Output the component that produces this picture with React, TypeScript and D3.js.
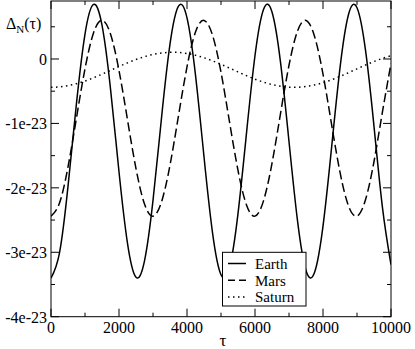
import React from "react";
import * as d3 from "d3";

const tau = [0, 250, 500, 750, 1000, 1250, 1500, 1750, 2000, 2250, 2500, 2750, 3000, 3250, 3500, 3750, 4000, 4250, 4500, 4750, 5000, 5250, 5500, 5750, 6000, 6250, 6500, 6750, 7000, 7250, 7500, 7750, 8000, 8250, 8500, 8750, 9000, 9250, 9500, 9750, 10000];

// values in units of 1e-23
const earth = [-3.400, -3.008, -1.977, -0.686, 0.387, 0.847, 0.524, -0.463, -1.750, -2.861, -3.387, -3.134, -2.195, -0.916, 0.230, 0.820, 0.638, -0.250, -1.517, -2.694, -3.348, -3.237, -2.401, -1.151, 0.054, 0.769, 0.729, -0.050, -1.281, -2.510, -3.283, -3.315, -2.594, -1.387, -0.138, 0.691, 0.795, 0.136, -1.045, -2.311, -3.193];
const mars = [-2.440, -2.235, -1.675, -0.912, -0.151, 0.403, 0.600, 0.387, -0.178, -0.944, -1.703, -2.251, -2.440, -2.219, -1.648, -0.880, -0.123, 0.418, 0.599, 0.370, -0.206, -0.976, -1.730, -2.266, -2.439, -2.202, -1.620, -0.848, -0.097, 0.433, 0.598, 0.353, -0.235, -1.008, -1.757, -2.280, -2.437, -2.185, -1.591, -0.817, -0.070];
const saturn = [-0.440, -0.433, -0.414, -0.383, -0.342, -0.292, -0.236, -0.177, -0.117, -0.060, -0.009, 0.036, 0.070, 0.093, 0.103, 0.101, 0.085, 0.057, 0.019, -0.029, -0.083, -0.141, -0.201, -0.259, -0.313, -0.359, -0.397, -0.423, -0.438, -0.439, -0.427, -0.403, -0.368, -0.323, -0.270, -0.213, -0.153, -0.094, -0.039, 0.010, 0.051];

const seriesNames = ["Earth", "Mars", "Saturn"];
const xMajor = [0, 2000, 4000, 6000, 8000, 10000];
const xMinor = [1000, 3000, 5000, 7000, 9000];
const yMajor = [0, -1, -2, -3, -4];
const yMajorLabels = ["0", "-1e-23", "-2e-23", "-3e-23", "-4e-23"];
const yMinor = [0.5, -0.5, -1.5, -2.5, -3.5];

const W = 415, H = 349;
const L = 51, R = 391, T = 1, B = 316.7;
const FONT = "'Liberation Serif', 'DejaVu Serif', 'Liberation Sans', sans-serif";

export default function App() {
  const x = d3.scaleLinear().domain([0, 10000]).range([L, R]);
  const y = d3.scaleLinear().domain([-4, 0.9]).range([B, T]);
  const line = (vals: number[]) =>
    d3.line<number>().x((_, i) => x(tau[i])).y((v) => y(v)).curve(d3.curveNatural)(vals) || "";

  const styles = [
    { dash: undefined as string | undefined },
    { dash: "9 4" },
    { dash: "1.5 3.5" },
  ];
  const legendDash = [undefined, "7 4", "1.5 3.5"];
  const data = [earth, mars, saturn];
  const maj = 8, mnr = 4;
  const ts = { fontFamily: FONT };

  return (
    <svg width={W} height={H} style={{ position: "fixed", left: 0, top: 0, background: "#fff", fontFamily: FONT }}>
      <rect x={0} y={0} width={W} height={H} fill="#fff" />
      <defs>
        <clipPath id="plotclip">
          <rect x={L} y={T} width={R - L} height={B - T} />
        </clipPath>
      </defs>
      <g clipPath="url(#plotclip)">
        {data.map((vals, i) => (
          <path key={i} d={line(vals)} fill="none" stroke="#000" strokeWidth={1.5} strokeDasharray={styles[i].dash} />
        ))}
      </g>
      <rect x={L} y={T} width={R - L} height={B - T} fill="none" stroke="#000" strokeWidth={1} />
      {xMajor.map((v) => (
        <g key={"xM" + v}>
          <line x1={x(v)} x2={x(v)} y1={B} y2={B - maj} stroke="#000" />
          <line x1={x(v)} x2={x(v)} y1={T} y2={T + maj} stroke="#000" />
          <text x={x(v)} y={333} textAnchor="middle" fontSize={16} style={ts}>{v}</text>
        </g>
      ))}
      {xMinor.map((v) => (
        <g key={"xm" + v}>
          <line x1={x(v)} x2={x(v)} y1={B} y2={B - mnr} stroke="#000" />
          <line x1={x(v)} x2={x(v)} y1={T} y2={T + mnr} stroke="#000" />
        </g>
      ))}
      {yMajor.map((v, i) => (
        <g key={"yM" + v}>
          <line x1={L} x2={L + maj} y1={y(v)} y2={y(v)} stroke="#000" />
          <line x1={R} x2={R - maj} y1={y(v)} y2={y(v)} stroke="#000" />
          <text x={47} y={y(v) + 6} textAnchor="end" fontSize={16} style={ts}>{yMajorLabels[i]}</text>
        </g>
      ))}
      {yMinor.map((v) => (
        <g key={"ym" + v}>
          <line x1={L} x2={L + mnr} y1={y(v)} y2={y(v)} stroke="#000" />
          <line x1={R} x2={R - mnr} y1={y(v)} y2={y(v)} stroke="#000" />
        </g>
      ))}
      <text x={223} y={346} textAnchor="middle" fontSize={17} style={ts}>τ</text>
      <text x={6} y={29} fontSize={16} style={ts}>
        Δ<tspan fontSize={11} dy={4}>N</tspan><tspan dy={-4} fontSize={16}>(τ)</tspan>
      </text>
      <rect x={222.5} y={252.3} width={83.5} height={53.7} fill="#fff" stroke="#000" strokeWidth={1} />
      {seriesNames.map((n, i) => (
        <g key={n}>
          <line x1={228} x2={246} y1={263.5 + i * 16.7} y2={263.5 + i * 16.7} stroke="#000" strokeWidth={1.5} strokeDasharray={legendDash[i]} />
          <text x={255} y={268.8 + i * 16.7} fontSize={15} style={ts}>{n}</text>
        </g>
      ))}
    </svg>
  );
}
